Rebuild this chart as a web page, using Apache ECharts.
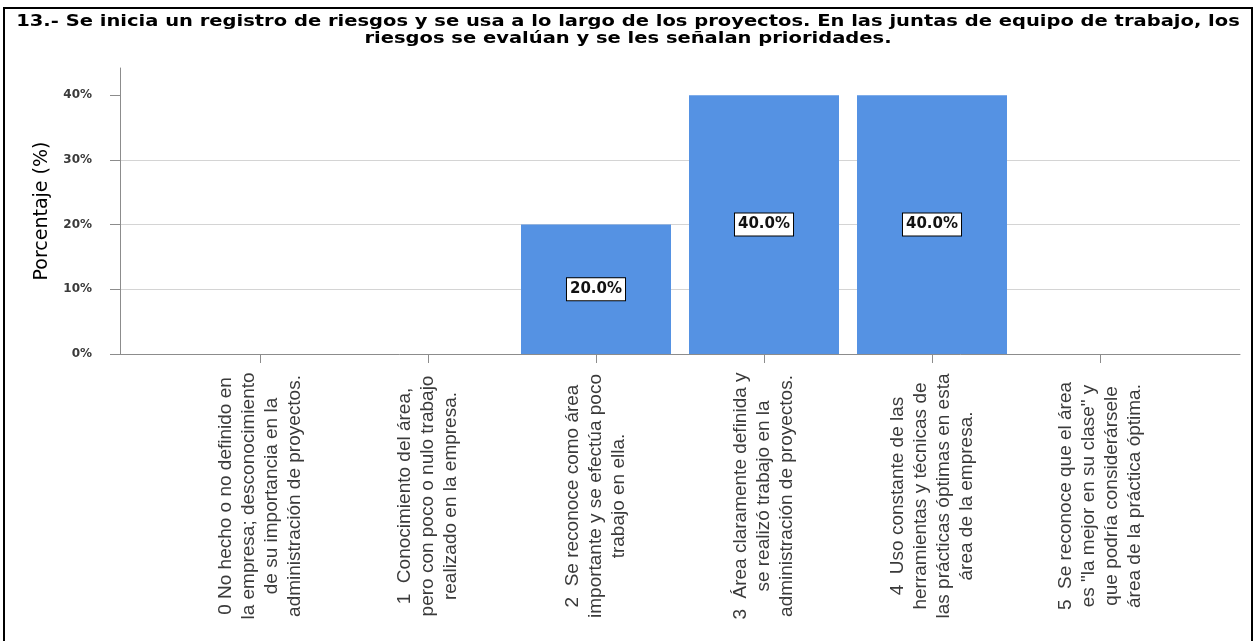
<!DOCTYPE html>
<html>
<head>
<meta charset="utf-8">
<title>Registro de riesgos</title>
<script src="https://cdn.jsdelivr.net/npm/echarts@6/dist/echarts.min.js"></script>
<style>
  html, body { margin: 0; padding: 0; background: #ffffff; }
  #chart { width: 1255px; height: 641px; }
</style>
</head>
<body>
<div id="chart"></div>
<script>
// Response levels (x axis categories)
const categories = [
  '0 No hecho o no definido en\nla empresa; desconocimiento\nde su importancia en la\nadministración de proyectos.',
  '1  Conocimiento del área,\npero con poco o nulo trabajo\nrealizado en la empresa.',
  '2  Se reconoce como área\nimportante y se efectúa poco\ntrabajo en ella.',
  '3  Área claramente definida y\nse realizó trabajo en la\nadministración de proyectos.',
  '4  Uso constante de las\nherramientas y técnicas de\nlas prácticas óptimas en esta\nárea de la empresa.',
  '5  Se reconoce que el área\nes "la mejor en su clase" y\nque podría considerársele\nárea de la práctica óptima.'
];

// Percentage of answers per level
const percentages = [0, 0, 20, 40, 40, 0];

// Y axis tick values (%)
const yTicks = [0, 10, 20, 30, 40];

const titleText = '13.- Se inicia un registro de riesgos y se usa a lo largo de los proyectos. En las juntas de equipo de trabajo, los\nriesgos se evalúan y se les señalan prioridades.';
const yName = 'Porcentaje (%)';

const yMax = 44.2;
const axisGray = '#8c8c8c';

const chart = echarts.init(document.getElementById('chart'), null, { renderer: 'canvas' });

const barData = percentages.map(v => ({
  value: v,
  label: { show: v > 0 }
}));

chart.setOption({
  animation: false,
  backgroundColor: '#ffffff',
  graphic: [
    {
      // heading, drawn wide across the top of the frame
      type: 'text',
      silent: true,
      x: 628,
      y: 14,
      scaleX: 1.3,
      style: {
        text: titleText,
        textAlign: 'center',
        textVerticalAlign: 'top',
        fontFamily: 'DejaVu Sans',
        fontWeight: 'bold',
        fontSize: 15,
        lineHeight: 17,
        fill: '#000000'
      }
    },
    {
      // outer frame
      type: 'rect',
      silent: true,
      z: 100,
      shape: { x: 4, y: 8, width: 1248, height: 640 },
      style: { fill: 'none', stroke: '#000000', lineWidth: 2 }
    }
  ],
  grid: [
    // frame grid: axis lines, y ticks and gridlines
    { left: 120, right: 15, top: 68, bottom: 287 },
    // bar grid: categories centred inside the frame
    { left: 176, right: 71, top: 68, bottom: 287 }
  ],
  xAxis: [
    {
      gridIndex: 0,
      type: 'value',
      min: 0,
      max: 1,
      axisLine: { show: true, lineStyle: { color: axisGray, width: 1 } },
      axisTick: { show: false },
      axisLabel: { show: false },
      splitLine: { show: false }
    },
    {
      gridIndex: 1,
      type: 'category',
      data: categories,
      axisLine: { show: false },
      axisTick: { show: true, alignWithLabel: true, length: 9, lineStyle: { color: axisGray } },
      axisLabel: {
        interval: 0,
        rotate: 90,
        align: 'center',
        verticalAlign: 'middle',
        margin: 142,
        fontFamily: 'Liberation Sans',
        fontSize: 19,
        lineHeight: 23,
        color: '#3a3a3a'
      }
    }
  ],
  yAxis: [
    {
      gridIndex: 0,
      type: 'value',
      min: 0,
      max: yMax,
      interval: 10,
      name: yName,
      nameLocation: 'middle',
      nameGap: 68,
      nameTextStyle: { fontFamily: 'DejaVu Sans', fontSize: 19, color: '#000000' },
      axisLine: { show: true, lineStyle: { color: axisGray, width: 1 } },
      axisTick: { show: true, length: 10, customValues: yTicks, lineStyle: { color: axisGray } },
      axisLabel: {
        customValues: yTicks,
        margin: 28,
        formatter: v => v + '%',
        fontFamily: 'DejaVu Sans',
        fontWeight: 'bold',
        fontSize: 12,
        color: '#3a3a3a'
      },
      splitLine: { show: true, showMinLine: false, showMaxLine: false, lineStyle: { color: '#d4d4d4', width: 1 } }
    },
    {
      gridIndex: 1,
      type: 'value',
      min: 0,
      max: yMax,
      show: false,
      splitLine: { show: false }
    }
  ],
  series: [{
    type: 'bar',
    xAxisIndex: 1,
    yAxisIndex: 1,
    data: barData,
    barWidth: 150,
    itemStyle: { color: '#5592e3' },
    label: {
      position: 'inside',
      formatter: p => p.value.toFixed(1) + '%',
      fontFamily: 'DejaVu Sans',
      fontWeight: 'bold',
      fontSize: 15,
      color: '#111111',
      backgroundColor: '#ffffff',
      borderColor: '#000000',
      borderWidth: 1,
      padding: [4, 3, 3, 3]
    }
  }]
});
</script>
</body>
</html>
